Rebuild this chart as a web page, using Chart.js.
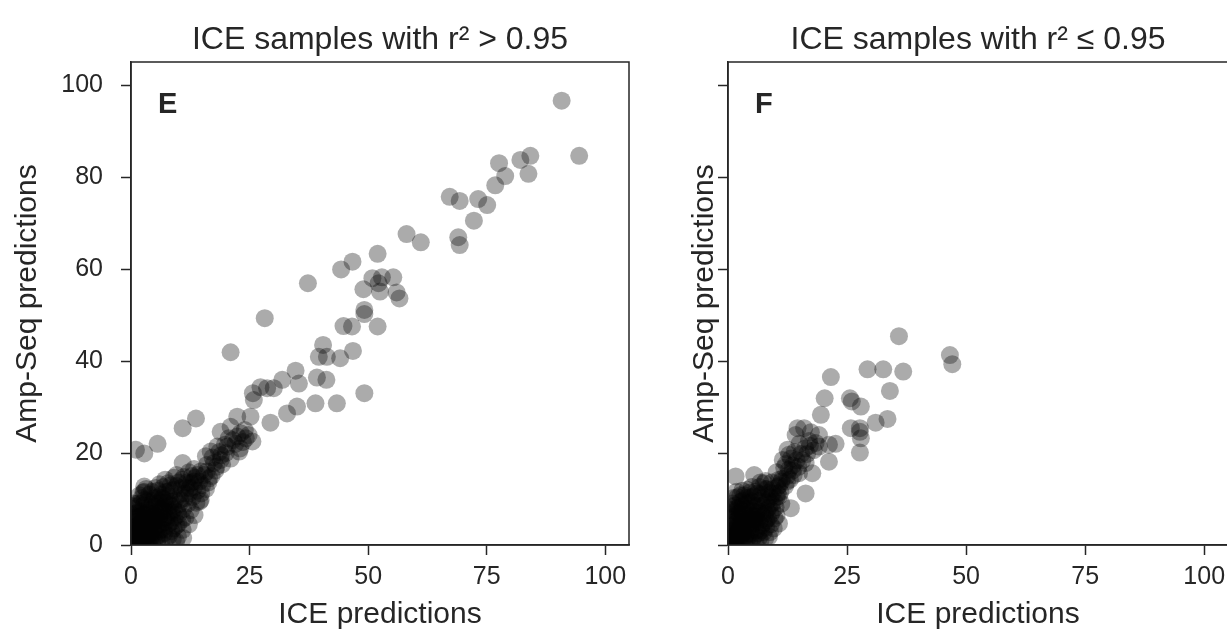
<!DOCTYPE html>
<html>
<head>
<meta charset="utf-8">
<script src="https://cdn.jsdelivr.net/npm/chart.js@4.4.1/dist/chart.umd.min.js"></script>
<style>
  html, body { margin: 0; padding: 0; background: #fff; overflow: hidden; }
  #wrap { position: relative; width: 1227px; height: 634px; overflow: hidden; background: #fff; }
  canvas { position: absolute; top: 0; }
  #chartE { left: 0; }
  #chartF { left: 640px; }
</style>
</head>
<body>
<div id="wrap">
  <canvas id="chartE" width="680" height="634"></canvas>
  <canvas id="chartF" width="600" height="634"></canvas>
</div>
<script>
const xTicks = [0, 25, 50, 75, 100];
const yTicks = [0, 20, 40, 60, 80, 100];
const titles = ['ICE samples with r² > 0.95', 'ICE samples with r² ≤ 0.95'];
const letters = ['E', 'F'];
const xLabel = 'ICE predictions';
const yLabel = 'Amp-Seq predictions';

// [ICE, Amp-Seq] pairs, r^2 > 0.95
const highFit = [
  [0.2,0.5],[0.5,1.2],[0.8,0.3],[1.0,2.0],[1.3,0.8],[1.5,1.6],[0.3,3.0],[0.6,4.2],[1.1,3.4],[1.8,2.5],
  [2.0,0.6],[2.2,1.9],[2.5,3.1],[0.4,5.5],[1.2,5.0],[2.8,2.2],[3.0,4.0],[0.7,6.8],[1.6,6.2],[2.4,5.4],
  [3.3,1.3],[3.5,3.2],[3.8,5.0],[0.9,7.9],[2.1,7.2],[3.1,6.5],[4.0,2.4],[4.2,4.4],[4.5,6.0],[1.4,9.0],
  [2.7,8.6],[3.6,7.6],[4.8,3.5],[5.0,5.2],[5.2,7.0],[2.3,10.2],[3.4,9.5],[4.4,8.8],[5.5,2.0],[5.8,4.5],
  [6.0,6.3],[6.2,8.0],[3.9,11.0],[5.0,10.2],[6.5,3.4],[6.8,5.6],[7.0,7.4],[7.2,9.2],[5.6,11.8],[6.4,11.0],
  [7.5,1.5],[7.8,4.2],[8.0,6.5],[8.3,8.6],[8.0,10.6],[6.8,12.6],[8.5,3.0],[8.8,5.2],[9.0,7.7],[9.3,9.8],
  [9.0,12.0],[7.8,13.4],[9.6,4.2],[10.0,6.6],[10.2,8.9],[10.5,11.1],[10.0,13.6],[9.0,14.6],[10.8,5.5],[11.0,7.8],
  [11.3,10.2],[11.6,12.4],[11.2,14.8],[12.0,9.0],[12.3,11.3],[12.6,13.5],[12.2,15.8],[13.0,10.4],[13.3,12.6],[13.6,14.6],
  [13.3,16.5],[14.0,11.8],[14.4,13.8],[14.7,16.0],[15.0,13.0],[15.4,15.2],[11.0,1.5],[9.5,0.8],[12.2,4.5],[13.4,6.5],
  [14.5,9.5],[10.9,3.3],[9.9,1.8],[14.7,9.8],[16.3,13.6],[0.5,0.8],[1.0,1.0],[1.5,2.5],[2.0,3.5],[2.5,1.0],
  [3.0,2.5],[0.8,2.2],[1.8,4.5],[3.2,5.6],[2.6,6.6],[4.0,3.2],[4.6,5.0],[5.4,6.2],[5.0,8.4],[6.0,9.4],
  [6.6,7.6],[7.4,6.0],[7.0,10.0],[8.2,11.8],[8.6,7.2],[4.2,1.2],[5.8,3.0],[3.6,0.4],[0.2,8.5],[0.5,9.0],
  [0.3,1.8],[0.7,2.6],[1.2,1.3],[1.7,0.4],[2.3,2.7],[2.9,1.6],[3.4,2.0],[0.5,3.8],[1.4,4.2],[2.2,4.8],
  [2.9,4.6],[3.7,4.0],[4.3,2.0],[4.9,2.8],[0.6,6.0],[1.3,7.0],[2.0,6.2],[2.8,5.8],[3.4,7.0],[4.1,6.8],
  [4.8,6.4],[5.3,4.2],[5.9,5.4],[6.3,4.4],[1.1,8.4],[2.0,8.9],[2.9,9.8],[3.8,8.2],[4.6,9.6],[5.4,9.0],
  [6.1,7.2],[6.9,8.4],[7.3,5.0],[7.9,7.1],[1.8,10.8],[2.6,11.4],[3.2,12.2],[4.4,11.6],[5.2,12.4],[5.8,10.4],
  [6.6,10.2],[7.6,9.6],[8.4,9.4],[8.9,8.4],[9.2,6.0],[9.8,7.2],[10.4,9.8],[7.4,11.6],[8.4,13.0],[9.6,12.8],
  [10.6,12.4],[11.4,11.2],[12.4,12.4],[13.2,13.8],[12.8,15.0],[14.0,15.2],[11.8,13.6],[10.8,14.2],[9.6,15.2],[6.0,13.2],
  [7.2,14.2],[5.0,1.0],[6.0,1.8],[7.0,2.6],[8.0,2.0],[6.4,0.6],[8.8,1.2],[1.0,0.2],[2.4,0.3],[3.0,0.9],
  [0.2,1.4],[0.1,4.6],[0.2,6.6],[1.6,3.6],[2.6,3.9],[3.9,1.0],[4.5,0.6],[3.3,3.9],[5.6,1.2],[6.9,3.3],
  [8.2,4.8],[9.0,3.6],[10.0,4.6],[11.5,6.0],[12.6,7.6],[13.8,9.2],[14.8,11.2],[15.8,12.2],[16.5,14.5],[16.0,17.4],
  [17.8,16.2],[19.2,17.5],[19.8,21.8],[21.5,22.8],[22.8,20.3],[23.6,22.4],[24.2,23.2],[17.2,19.0],[18.6,20.2],[20.6,23.2],
  [15.8,19.3],[16.8,20.3],[17.5,17.8],[18.2,21.4],[18.9,18.5],[18.9,24.6],[20.3,21.4],[21.0,18.8],[21.0,25.7],[22.4,23.6],
  [23.1,24.3],[24.8,23.9],[25.6,22.5],[10.9,17.8],[16.0,16.0],[17.0,15.0],[18.0,17.0],[19.0,19.5],[20.0,20.0],[22.0,22.0],
  [24.0,25.0],[23.0,21.0],[1.05,20.7],[2.8,19.9],[5.6,22.0],[10.9,25.4],[13.7,27.5],[2.8,12.7],[2.8,11.6],
  [21.0,41.9],[28.2,49.3],[22.4,27.9],[25.2,27.9],[29.4,26.6],[25.7,33.0],[25.9,31.5],[27.3,34.3],[28.7,34.1],[30.1,34.1],
  [31.9,35.9],[34.7,37.9],[35.4,35.1],[32.9,28.6],[35.0,30.1],[38.9,30.8],[43.4,30.8],[49.2,33.0],[39.2,36.4],[41.2,35.9],
  [39.6,40.9],[41.3,40.9],[40.5,43.5],[44.1,40.6],[46.8,42.2],[44.8,47.6],[46.6,47.5],[52.0,47.5],[49.2,50.2],[37.3,56.9],
  [44.3,59.9],[46.7,61.6],[52.0,63.3],[50.9,58.0],[52.9,58.2],[55.3,58.2],[49.0,55.6],[52.5,55.1],[56.0,54.9],[56.6,53.6],
  [52.2,56.9],[49.2,51.1],[58.1,67.6],[61.1,65.8],[69.0,66.9],[69.3,65.2],[67.2,75.7],[69.3,74.8],[73.2,75.2],[75.1,73.9],
  [72.3,70.5],[76.8,78.2],[77.6,83.0],[78.9,80.2],[82.1,83.7],[84.2,84.6],[83.8,80.7],[90.8,96.6],[94.5,84.6]
];

// [ICE, Amp-Seq] pairs, r^2 <= 0.95
const lowFit = [
  [35.9,45.4],[46.6,41.3],[47.1,39.3],[29.3,38.2],[32.6,38.2],[36.8,37.7],[21.6,36.5],[34.0,33.5],[20.3,31.9],[25.6,31.9],
  [26.0,31.2],[27.9,30.1],[19.5,28.3],[33.5,27.4],[31.0,26.6],[25.8,25.4],[27.7,25.4],[27.7,24.6],[27.9,23.2],[27.7,20.1],
  [14.6,25.4],[16.0,25.4],[14.2,23.9],[19.1,23.9],[17.4,24.5],[22.6,22.0],[21.2,21.8],[19.1,21.4],[21.2,18.1],[12.5,20.7],
  [12.8,19.6],[16.3,17.8],[13.6,17.3],[14.9,15.6],[17.7,15.6],[16.3,11.2],[13.2,8.0],[1.6,14.9],[5.5,15.2],[7.9,13.9],
  [10.7,14.2],[10.7,10.6],[10.7,4.7],[8.6,1.8],
  [0.2,0.4],[0.6,1.1],[1.0,0.3],[1.2,2.0],[0.4,2.8],[1.8,1.2],[2.0,2.8],[0.9,4.0],[1.6,4.6],[2.6,1.8],
  [2.8,3.8],[0.3,5.6],[1.3,6.2],[2.2,5.8],[3.2,2.6],[3.4,4.8],[3.6,6.6],[0.7,7.6],[1.9,8.0],[2.9,7.4],
  [4.0,1.4],[4.2,3.6],[4.4,5.6],[4.6,7.8],[1.0,9.0],[2.6,9.4],[3.8,9.0],[5.0,2.4],[5.2,4.4],[5.4,6.4],
  [5.6,8.6],[3.4,10.8],[4.8,10.4],[6.0,3.2],[6.2,5.4],[6.4,7.4],[6.6,9.6],[5.8,11.6],[7.0,4.2],[7.2,6.4],
  [7.4,8.6],[7.0,11.0],[6.6,12.6],[8.0,5.4],[8.2,7.6],[8.4,9.8],[8.2,12.2],[7.6,13.4],[9.0,6.6],[9.2,9.0],
  [9.4,11.2],[9.2,13.6],[10.0,8.2],[10.2,10.4],[10.4,12.6],[11.0,11.5],[11.2,13.8],[12.0,12.8],[12.4,15.0],[13.0,14.2],
  [13.6,16.2],[11.8,16.8],[10.2,15.8],[14.4,18.4],[15.4,19.8],[16.2,21.0],[18.0,20.6],[17.0,22.6],[15.0,22.0],[11.5,18.5],
  [0.5,0.9],[1.0,1.5],[1.5,3.0],[2.0,4.0],[2.5,2.5],[3.0,5.0],[1.2,3.2],[3.5,3.5],[2.4,6.8],[4.0,4.5],
  [4.5,2.5],[5.5,5.5],[6.0,7.0],[3.0,8.4],[5.0,9.5],[2.0,10.4],[4.0,12.0],[6.5,1.5],[7.5,2.8],[8.0,3.8],
  [9.0,4.5],[9.8,5.8],[5.0,0.8],[3.0,0.5],
  [0.3,1.6],[0.8,2.4],[1.4,0.8],[1.9,1.9],[2.4,0.6],[2.9,2.2],[0.5,3.6],[1.1,4.8],[1.7,5.2],[2.3,3.4],
  [3.1,3.2],[3.7,2.1],[0.6,6.6],[1.4,7.2],[2.1,6.9],[2.7,5.0],[3.3,5.8],[3.9,5.2],[4.3,4.4],[4.8,3.2],
  [5.4,1.8],[0.4,8.4],[1.5,8.6],[2.3,8.2],[3.1,9.6],[3.9,7.8],[4.6,6.6],[5.1,5.6],[5.8,4.6],[6.4,2.6],
  [7.0,3.2],[1.2,10.2],[2.6,10.8],[3.8,10.2],[4.4,9.2],[5.2,7.4],[5.9,6.2],[6.6,5.0],[7.6,4.8],[8.4,5.8],
  [1.8,11.6],[3.0,11.8],[4.6,11.4],[5.4,10.6],[6.2,8.6],[6.9,7.2],[7.8,6.8],[8.6,8.2],[9.4,7.4],[5.0,12.6],
  [6.2,11.2],[7.2,10.2],[8.0,9.2],[9.0,10.4],[9.8,9.4],[8.6,11.4],[7.8,12.2],[6.8,13.6],[9.4,12.2],[10.4,11.2],
  [10.8,13.0],[11.4,14.4],[12.4,13.8],[12.8,16.4],[13.8,15.2],[14.8,17.0],[15.6,18.4],[16.6,19.8],[17.2,21.6],[18.4,22.2],
  [13.2,18.8],[14.0,20.2],[12.2,17.6],[0.2,0.9],[0.9,0.6],[1.6,1.4],[2.2,1.0],[0.7,1.9],[3.4,1.0],[4.4,0.6],
  [5.8,0.5],[6.8,1.0],[7.8,1.4],[8.8,2.8],[9.6,3.6],[10.2,6.4],[11.2,9.0]
];

const ink = '#262626';
const fontFamily = '"Liberation Sans", Arial, sans-serif';

// draws the top/right spines and the panel letter
const framePlugin = {
  id: 'frame',
  afterDraw(chart, args, opts) {
    const a = chart.chartArea;
    const ctx = chart.ctx;
    ctx.save();
    ctx.strokeStyle = ink;
    ctx.lineWidth = 1.5;
    ctx.strokeRect(a.left, a.top, a.right - a.left, a.bottom - a.top);
    ctx.fillStyle = ink;
    ctx.font = 'bold 29px ' + fontFamily;
    ctx.textBaseline = 'alphabetic';
    ctx.fillText(opts.letter, a.left + 27, a.top + 51);
    ctx.restore();
  }
};

function makePanel(id, pairs, title, letter, showYLabels, yTitlePad, rightPad) {
  new Chart(document.getElementById(id), {
    type: 'scatter',
    data: {
      datasets: [{
        data: pairs.map(p => ({x: p[0], y: p[1]})),
        backgroundColor: 'rgba(0,0,0,0.33)',
        borderWidth: 0,
        pointRadius: 9,
        clip: 0
      }]
    },
    options: {
      responsive: false,
      animation: false,
      devicePixelRatio: 1,
      events: [],
      layout: { padding: { top: 0, right: rightPad, bottom: 0, left: 0 } },
      plugins: {
        legend: { display: false },
        tooltip: { enabled: false },
        title: {
          display: true,
          text: title,
          fullSize: false,
          color: ink,
          font: { family: fontFamily, size: 32, weight: 'normal' },
          padding: { top: 21, bottom: 2.6 }
        },
        frame: { letter: letter }
      },
      scales: {
        x: {
          type: 'linear',
          min: 0,
          max: 105,
          afterBuildTicks: s => { s.ticks = xTicks.map(v => ({value: v})); },
          afterFit: s => { s.height = 89; s.paddingLeft = 0; s.paddingRight = 0; },
          grid: { drawOnChartArea: false, drawTicks: true, tickLength: 10, tickWidth: 1.5, tickColor: ink },
          border: { display: true, color: ink, width: 1.5 },
          ticks: { color: ink, font: { family: fontFamily, size: 25 }, padding: 7, maxRotation: 0, autoSkip: false },
          title: { display: true, text: xLabel, color: ink, font: { family: fontFamily, size: 30 }, padding: { top: 0, bottom: 1 } }
        },
        y: {
          type: 'linear',
          min: 0,
          max: 105,
          afterBuildTicks: s => { s.ticks = yTicks.map(v => ({value: v})); },
          afterFit: s => { s.width = showYLabels ? 131 : 88; s.paddingTop = 0; s.paddingBottom = 0; },
          grid: { drawOnChartArea: false, drawTicks: true, tickLength: 10, tickWidth: 1.5, tickColor: ink },
          border: { display: true, color: ink, width: 1.5 },
          ticks: {
            color: ink,
            font: { family: fontFamily, size: 25 },
            padding: 18,
            autoSkip: false,
            callback: v => showYLabels ? String(v) : ''
          },
          title: { display: true, text: yLabel, color: ink, font: { family: fontFamily, size: 30 }, padding: { top: yTitlePad, bottom: 0 } }
        }
      }
    },
    plugins: [framePlugin]
  });
}

makePanel('chartE', highFit, titles[0], letters[0], true, 10, 51);
makePanel('chartF', lowFit, titles[1], letters[1], false, 47, 12);
</script>
</body>
</html>
